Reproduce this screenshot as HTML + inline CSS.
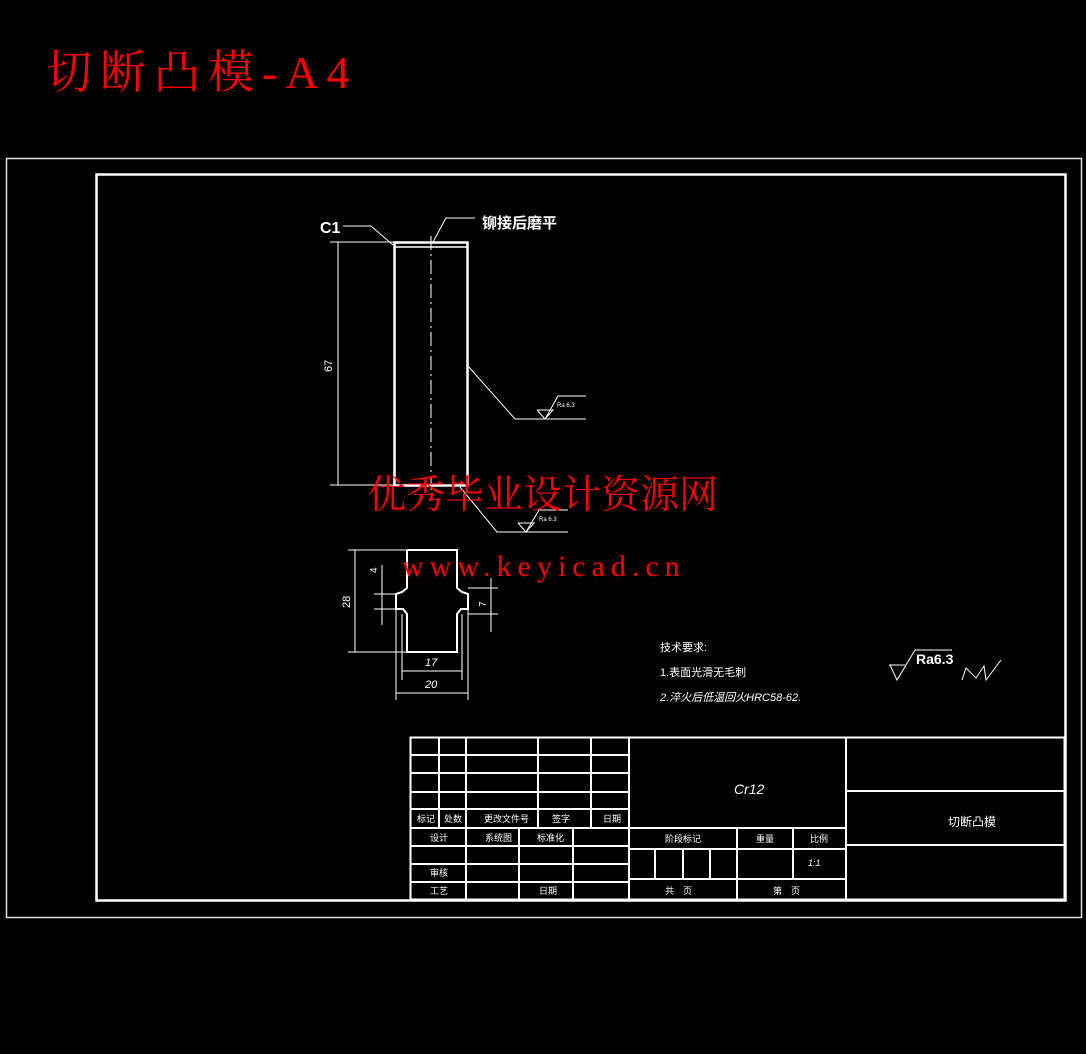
<!DOCTYPE html>
<html><head><meta charset="utf-8"><style>
html,body{margin:0;padding:0;background:#000;}
svg{display:block}
.t{font-family:"Liberation Sans","Noto Sans CJK SC",sans-serif;fill:#fff}
</style></head><body>
<svg width="1086" height="1054" viewBox="0 0 1086 1054" xmlns="http://www.w3.org/2000/svg">
<rect width="1086" height="1054" fill="#000"/>
<text x="46" y="88" font-family="'Liberation Serif','Noto Serif CJK SC',serif" font-size="46" fill="#ff0000" letter-spacing="8">切断凸模-A4</text>
<g fill="none" stroke="#fff">
<rect x="6.5" y="158.5" width="1075" height="759" stroke-width="1.5" stroke="#ddd"/>
<rect x="96.5" y="174.5" width="969" height="726" stroke-width="2.5"/>
<rect x="394.5" y="242.5" width="73" height="243" stroke-width="2.5"/>
<line x1="394" y1="247" x2="467" y2="247" stroke-width="1.5"/>
<line x1="431" y1="236" x2="431" y2="490" stroke-width="1" stroke-dasharray="14,4,2,4"/>
<g stroke-width="1">
<line x1="330" y1="242" x2="394" y2="242"/><line x1="330" y1="485" x2="394" y2="485"/>
<line x1="338" y1="242" x2="338" y2="485"/>
<polyline points="343,226 371,226 393,245"/>
<polyline points="475,218 446,218 433,242"/>
<polyline points="468,366 515,419 586,419"/>
<polyline points="537,410 545,419 553,410 537,410"/>
<polyline points="545,419 558,396 586,396"/>
<polyline points="460,487 497,532 568,532"/>
<polyline points="518,523 526,532 534,523 518,523"/>
<polyline points="526,532 539,510 568,510"/>
</g>
<polyline stroke-width="2" points="407,550 407,588 402,592 396,594 396,609 403,609 407,614 407,652 457,652 457,614 461,609 468,609 468,594 462,592 457,588 457,550 407,550"/>
<g stroke-width="1">
<line x1="348" y1="550" x2="407" y2="550"/><line x1="348" y1="652" x2="407" y2="652"/>
<line x1="355" y1="550" x2="355" y2="652"/>
<line x1="374" y1="594" x2="396" y2="594"/><line x1="374" y1="609" x2="396" y2="609"/>
<line x1="382" y1="565" x2="382" y2="625"/>
<line x1="468" y1="588" x2="498" y2="588"/><line x1="468" y1="614" x2="498" y2="614"/>
<line x1="491" y1="578" x2="491" y2="632"/>
<line x1="402" y1="614" x2="402" y2="680"/><line x1="462" y1="614" x2="462" y2="680"/>
<line x1="396" y1="609" x2="396" y2="700"/><line x1="468" y1="609" x2="468" y2="700"/>
<line x1="402" y1="671" x2="462" y2="671"/><line x1="396" y1="693" x2="468" y2="693"/>
<polyline points="890,665 897,680 915,650 952,650"/>
<polyline points="889,665 905,665"/>
<polyline points="962,680 966,668 976,678 984,666 986,680 1001,660"/>
</g>
<g stroke-width="2">
<rect x="410.5" y="737.5" width="654" height="162"/>
<line x1="629" y1="737" x2="629" y2="900"/>
<line x1="846" y1="737" x2="846" y2="900"/>
<line x1="846" y1="791" x2="1065" y2="791"/><line x1="846" y1="845" x2="1065" y2="845"/>
<line x1="410" y1="755" x2="629" y2="755"/><line x1="410" y1="773" x2="629" y2="773"/>
<line x1="410" y1="792" x2="629" y2="792"/><line x1="410" y1="809" x2="629" y2="809"/>
<line x1="410" y1="828" x2="846" y2="828"/>
<line x1="410" y1="846" x2="629" y2="846"/><line x1="410" y1="864" x2="629" y2="864"/>
<line x1="410" y1="882" x2="629" y2="882"/>
<line x1="439" y1="737" x2="439" y2="828"/><line x1="466" y1="737" x2="466" y2="900"/>
<line x1="538" y1="737" x2="538" y2="828"/><line x1="591" y1="737" x2="591" y2="828"/>
<line x1="519" y1="828" x2="519" y2="900"/><line x1="573" y1="828" x2="573" y2="900"/>
<line x1="629" y1="849" x2="846" y2="849"/><line x1="629" y1="879" x2="846" y2="879"/>
<line x1="655" y1="849" x2="655" y2="879"/><line x1="683" y1="849" x2="683" y2="879"/>
<line x1="710" y1="849" x2="710" y2="879"/>
<line x1="737" y1="828" x2="737" y2="900"/><line x1="793" y1="828" x2="793" y2="879"/>
</g>
</g>
<g class="t">
<text x="320" y="233" font-size="16" font-weight="bold">C1</text>
<text x="482" y="228" font-size="15" font-weight="bold">铆接后磨平</text>
<text x="0" y="0" font-size="11" transform="translate(332,372) rotate(-90)">67</text>
<text x="0" y="0" font-size="11" transform="translate(350,608) rotate(-90)">28</text>
<text x="0" y="0" font-size="10" transform="translate(377,573) rotate(-90)">4</text>
<text x="0" y="0" font-size="10" transform="translate(486,607) rotate(-90)">7</text>
<text x="425" y="666" font-size="11" font-style="italic">17</text>
<text x="425" y="688" font-size="11" font-style="italic">20</text>
<text x="557" y="407" font-size="6">Ra 6.3</text>
<text x="539" y="521" font-size="6">Ra 6.3</text>
<text x="660" y="651" font-size="11">技术要求:</text>
<text x="660" y="676" font-size="11">1.表面光滑无毛刺</text>
<text x="660" y="701" font-size="11" font-style="italic">2.淬火后低温回火HRC58-62.</text>
<text x="916" y="664" font-size="14" font-weight="bold">Ra6.3</text>
<text x="734" y="794" font-size="14" font-style="italic">Cr12</text>
<text x="948" y="826" font-size="12">切断凸模</text>
<g font-size="9">
<text x="417" y="822">标记</text><text x="444" y="822">处数</text><text x="484" y="822">更改文件号</text><text x="552" y="822">签字</text><text x="603" y="822">日期</text>
<text x="430" y="841">设计</text><text x="485" y="841">系统图</text><text x="537" y="841">标准化</text>
<text x="430" y="876">审核</text><text x="430" y="894">工艺</text><text x="539" y="894">日期</text>
<text x="665" y="842">阶段标记</text><text x="756" y="842">重量</text><text x="810" y="842">比例</text>
<text x="808" y="866" font-style="italic">1:1</text>
<text x="665" y="894">共　页</text><text x="773" y="894">第　页</text>
</g>
</g>
<text x="367" y="508" font-family="'Liberation Serif','Noto Serif CJK SC',serif" font-size="39" fill="#ff0000">优秀毕业设计资源网</text>
<text x="402" y="576" font-family="'Liberation Serif',serif" font-size="30" fill="#ff0000" letter-spacing="6">www.keyicad.cn</text>
</svg>
</body></html>
